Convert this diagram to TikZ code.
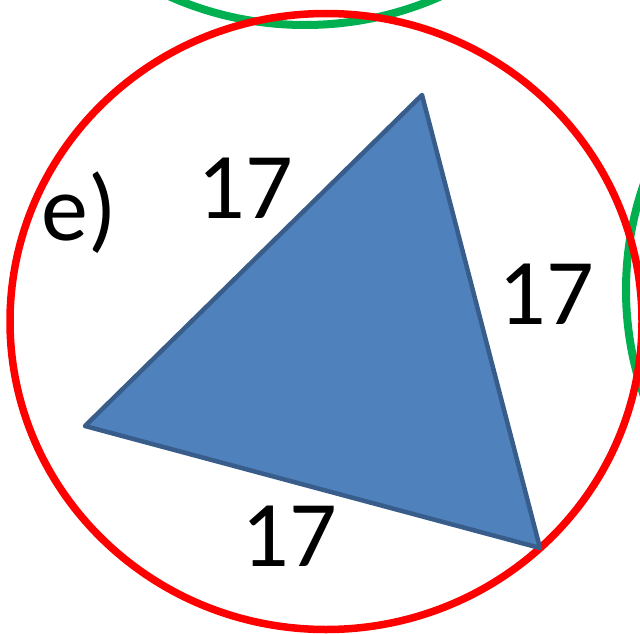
\documentclass[tikz,border=0pt]{standalone}
\usepackage{fontspec}
\setmainfont{Carlito}
\definecolor{triblue}{HTML}{4F81BD}
\definecolor{triedge}{HTML}{385D8A}
\definecolor{gr}{HTML}{00B050}
\begin{document}
\begin{tikzpicture}[x=1pt,y=-1pt,
  lbl/.style={font=\fontsize{94}{94}\selectfont, anchor=base, inner sep=0pt}]
\useasboundingbox (0,0) rectangle (640,634);
\begin{scope}
\clip (0,0) rectangle (640,634);
\draw[gr, line width=8pt] (305,-290) ellipse[x radius=325, y radius=315];
\draw[gr, line width=8pt] (940,290) ellipse[x radius=314, y radius=318];
\draw[red, line width=7.5pt] (326,321.5) ellipse[x radius=316, y radius=308];
\end{scope}
\coordinate (A) at (422,95);
\coordinate (B) at (85,426);
\coordinate (C) at (540,548);
\draw[fill=triblue, draw=triedge, line width=4.5pt, line join=round] (A) -- (B) -- (C) -- cycle;
\node[lbl] (l1) at (245,218) {17};
\node[lbl] (l2) at (546,324) {17};
\node[lbl] (l3) at (289,566) {17};
\node[lbl] (e) at (79,240) {e)};
\end{tikzpicture}
\end{document}
